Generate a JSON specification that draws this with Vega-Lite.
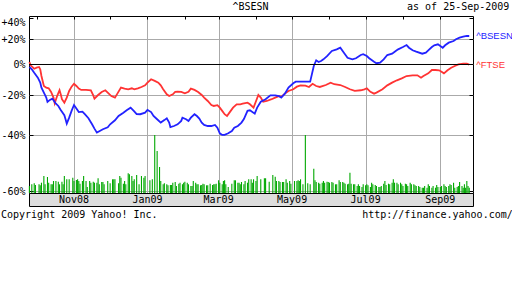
{
  "$schema": "https://vega.github.io/schema/vega-lite/v6.json",
  "autosize": {"type": "pad"},
  "padding": {"left": 0, "top": 2, "right": 0, "bottom": 0},
  "background": "white",
  "bounds": "flush",
  "spacing": 0,
  "title": {
    "text": "^BSESN\u00a0\u00a0\u00a0\u00a0\u00a0\u00a0\u00a0\u00a0\u00a0\u00a0\u00a0\u00a0\u00a0\u00a0\u00a0\u00a0\u00a0\u00a0\u00a0\u00a0\u00a0\u00a0\u00a0as of 25-Sep-2009",
    "anchor": "start", "frame": "bounds", "dx": 232, "offset": 3,
    "font": "DejaVu Sans Mono", "fontSize": 10, "fontWeight": "normal", "color": "black"
  },
  "datasets": {
    "months": [
      {"date": "2008-11-01", "label": "Nov08"},
      {"date": "2009-01-01", "label": "Jan09"},
      {"date": "2009-03-01", "label": "Mar09"},
      {"date": "2009-05-01", "label": "May09"},
      {"date": "2009-07-01", "label": "Jul09"},
      {"date": "2009-09-01", "label": "Sep09"}
    ],
    "prices": [
      {"date":"2008-09-25","series":"^FTSE","ratio":1.018},
      {"date":"2008-09-26","series":"^FTSE","ratio":0.994},
      {"date":"2008-09-29","series":"^FTSE","ratio":0.970},
      {"date":"2008-10-01","series":"^FTSE","ratio":0.977},
      {"date":"2008-10-03","series":"^FTSE","ratio":0.982},
      {"date":"2008-10-04","series":"^FTSE","ratio":0.966},
      {"date":"2008-10-05","series":"^FTSE","ratio":0.920},
      {"date":"2008-10-07","series":"^FTSE","ratio":0.856},
      {"date":"2008-10-09","series":"^FTSE","ratio":0.846},
      {"date":"2008-10-11","series":"^FTSE","ratio":0.842},
      {"date":"2008-10-13","series":"^FTSE","ratio":0.820},
      {"date":"2008-10-15","series":"^FTSE","ratio":0.787},
      {"date":"2008-10-16","series":"^FTSE","ratio":0.755},
      {"date":"2008-10-18","series":"^FTSE","ratio":0.796},
      {"date":"2008-10-20","series":"^FTSE","ratio":0.830},
      {"date":"2008-10-21","series":"^FTSE","ratio":0.806},
      {"date":"2008-10-22","series":"^FTSE","ratio":0.778},
      {"date":"2008-10-24","series":"^FTSE","ratio":0.759},
      {"date":"2008-10-26","series":"^FTSE","ratio":0.787},
      {"date":"2008-10-28","series":"^FTSE","ratio":0.826},
      {"date":"2008-10-30","series":"^FTSE","ratio":0.852},
      {"date":"2008-11-01","series":"^FTSE","ratio":0.870},
      {"date":"2008-11-03","series":"^FTSE","ratio":0.856},
      {"date":"2008-11-05","series":"^FTSE","ratio":0.840},
      {"date":"2008-11-07","series":"^FTSE","ratio":0.832},
      {"date":"2008-11-11","series":"^FTSE","ratio":0.832},
      {"date":"2008-11-15","series":"^FTSE","ratio":0.830},
      {"date":"2008-11-17","series":"^FTSE","ratio":0.800},
      {"date":"2008-11-18","series":"^FTSE","ratio":0.781},
      {"date":"2008-11-21","series":"^FTSE","ratio":0.802},
      {"date":"2008-11-24","series":"^FTSE","ratio":0.820},
      {"date":"2008-11-27","series":"^FTSE","ratio":0.830},
      {"date":"2008-11-29","series":"^FTSE","ratio":0.816},
      {"date":"2008-12-02","series":"^FTSE","ratio":0.796},
      {"date":"2008-12-05","series":"^FTSE","ratio":0.787},
      {"date":"2008-12-07","series":"^FTSE","ratio":0.810},
      {"date":"2008-12-10","series":"^FTSE","ratio":0.846},
      {"date":"2008-12-13","series":"^FTSE","ratio":0.840},
      {"date":"2008-12-16","series":"^FTSE","ratio":0.836},
      {"date":"2008-12-19","series":"^FTSE","ratio":0.842},
      {"date":"2008-12-21","series":"^FTSE","ratio":0.836},
      {"date":"2008-12-24","series":"^FTSE","ratio":0.842},
      {"date":"2008-12-27","series":"^FTSE","ratio":0.850},
      {"date":"2008-12-30","series":"^FTSE","ratio":0.860},
      {"date":"2009-01-01","series":"^FTSE","ratio":0.877},
      {"date":"2009-01-04","series":"^FTSE","ratio":0.899},
      {"date":"2009-01-07","series":"^FTSE","ratio":0.888},
      {"date":"2009-01-10","series":"^FTSE","ratio":0.877},
      {"date":"2009-01-12","series":"^FTSE","ratio":0.860},
      {"date":"2009-01-14","series":"^FTSE","ratio":0.836},
      {"date":"2009-01-17","series":"^FTSE","ratio":0.806},
      {"date":"2009-01-19","series":"^FTSE","ratio":0.796},
      {"date":"2009-01-22","series":"^FTSE","ratio":0.806},
      {"date":"2009-01-24","series":"^FTSE","ratio":0.820},
      {"date":"2009-01-26","series":"^FTSE","ratio":0.821},
      {"date":"2009-01-29","series":"^FTSE","ratio":0.820},
      {"date":"2009-02-01","series":"^FTSE","ratio":0.812},
      {"date":"2009-02-04","series":"^FTSE","ratio":0.821},
      {"date":"2009-02-06","series":"^FTSE","ratio":0.840},
      {"date":"2009-02-09","series":"^FTSE","ratio":0.832},
      {"date":"2009-02-12","series":"^FTSE","ratio":0.820},
      {"date":"2009-02-15","series":"^FTSE","ratio":0.802},
      {"date":"2009-02-17","series":"^FTSE","ratio":0.787},
      {"date":"2009-02-20","series":"^FTSE","ratio":0.768},
      {"date":"2009-02-23","series":"^FTSE","ratio":0.746},
      {"date":"2009-02-25","series":"^FTSE","ratio":0.741},
      {"date":"2009-02-28","series":"^FTSE","ratio":0.745},
      {"date":"2009-03-02","series":"^FTSE","ratio":0.732},
      {"date":"2009-03-04","series":"^FTSE","ratio":0.715},
      {"date":"2009-03-06","series":"^FTSE","ratio":0.698},
      {"date":"2009-03-08","series":"^FTSE","ratio":0.689},
      {"date":"2009-03-10","series":"^FTSE","ratio":0.706},
      {"date":"2009-03-13","series":"^FTSE","ratio":0.732},
      {"date":"2009-03-16","series":"^FTSE","ratio":0.750},
      {"date":"2009-03-19","series":"^FTSE","ratio":0.750},
      {"date":"2009-03-21","series":"^FTSE","ratio":0.753},
      {"date":"2009-03-25","series":"^FTSE","ratio":0.759},
      {"date":"2009-03-27","series":"^FTSE","ratio":0.750},
      {"date":"2009-03-30","series":"^FTSE","ratio":0.732},
      {"date":"2009-04-03","series":"^FTSE","ratio":0.802},
      {"date":"2009-04-05","series":"^FTSE","ratio":0.787},
      {"date":"2009-04-07","series":"^FTSE","ratio":0.764},
      {"date":"2009-04-10","series":"^FTSE","ratio":0.768},
      {"date":"2009-04-14","series":"^FTSE","ratio":0.778},
      {"date":"2009-04-17","series":"^FTSE","ratio":0.787},
      {"date":"2009-04-20","series":"^FTSE","ratio":0.796},
      {"date":"2009-04-22","series":"^FTSE","ratio":0.791},
      {"date":"2009-04-25","series":"^FTSE","ratio":0.810},
      {"date":"2009-04-28","series":"^FTSE","ratio":0.826},
      {"date":"2009-05-02","series":"^FTSE","ratio":0.836},
      {"date":"2009-05-05","series":"^FTSE","ratio":0.852},
      {"date":"2009-05-08","series":"^FTSE","ratio":0.860},
      {"date":"2009-05-12","series":"^FTSE","ratio":0.858},
      {"date":"2009-05-15","series":"^FTSE","ratio":0.850},
      {"date":"2009-05-18","series":"^FTSE","ratio":0.870},
      {"date":"2009-05-21","series":"^FTSE","ratio":0.856},
      {"date":"2009-05-24","series":"^FTSE","ratio":0.850},
      {"date":"2009-05-29","series":"^FTSE","ratio":0.862},
      {"date":"2009-06-02","series":"^FTSE","ratio":0.877},
      {"date":"2009-06-05","series":"^FTSE","ratio":0.867},
      {"date":"2009-06-10","series":"^FTSE","ratio":0.862},
      {"date":"2009-06-14","series":"^FTSE","ratio":0.850},
      {"date":"2009-06-18","series":"^FTSE","ratio":0.836},
      {"date":"2009-06-22","series":"^FTSE","ratio":0.826},
      {"date":"2009-06-27","series":"^FTSE","ratio":0.830},
      {"date":"2009-06-30","series":"^FTSE","ratio":0.836},
      {"date":"2009-07-02","series":"^FTSE","ratio":0.842},
      {"date":"2009-07-05","series":"^FTSE","ratio":0.821},
      {"date":"2009-07-08","series":"^FTSE","ratio":0.810},
      {"date":"2009-07-10","series":"^FTSE","ratio":0.816},
      {"date":"2009-07-15","series":"^FTSE","ratio":0.836},
      {"date":"2009-07-19","series":"^FTSE","ratio":0.860},
      {"date":"2009-07-23","series":"^FTSE","ratio":0.877},
      {"date":"2009-07-27","series":"^FTSE","ratio":0.892},
      {"date":"2009-07-31","series":"^FTSE","ratio":0.905},
      {"date":"2009-08-04","series":"^FTSE","ratio":0.920},
      {"date":"2009-08-09","series":"^FTSE","ratio":0.925},
      {"date":"2009-08-13","series":"^FTSE","ratio":0.925},
      {"date":"2009-08-16","series":"^FTSE","ratio":0.909},
      {"date":"2009-08-18","series":"^FTSE","ratio":0.920},
      {"date":"2009-08-22","series":"^FTSE","ratio":0.938},
      {"date":"2009-08-25","series":"^FTSE","ratio":0.961},
      {"date":"2009-08-28","series":"^FTSE","ratio":0.961},
      {"date":"2009-08-31","series":"^FTSE","ratio":0.959},
      {"date":"2009-09-02","series":"^FTSE","ratio":0.949},
      {"date":"2009-09-04","series":"^FTSE","ratio":0.938},
      {"date":"2009-09-07","series":"^FTSE","ratio":0.959},
      {"date":"2009-09-10","series":"^FTSE","ratio":0.977},
      {"date":"2009-09-13","series":"^FTSE","ratio":0.989},
      {"date":"2009-09-16","series":"^FTSE","ratio":1.001},
      {"date":"2009-09-20","series":"^FTSE","ratio":1.006},
      {"date":"2009-09-23","series":"^FTSE","ratio":1.006},
      {"date":"2009-09-25","series":"^FTSE","ratio":0.999},
      {"date":"2008-09-25","series":"^BSESN","ratio":0.982},
      {"date":"2008-09-27","series":"^BSESN","ratio":0.966},
      {"date":"2008-09-29","series":"^BSESN","ratio":0.942},
      {"date":"2008-10-02","series":"^BSESN","ratio":0.909},
      {"date":"2008-10-04","series":"^BSESN","ratio":0.877},
      {"date":"2008-10-05","series":"^BSESN","ratio":0.846},
      {"date":"2008-10-07","series":"^BSESN","ratio":0.816},
      {"date":"2008-10-09","series":"^BSESN","ratio":0.787},
      {"date":"2008-10-10","series":"^BSESN","ratio":0.763},
      {"date":"2008-10-12","series":"^BSESN","ratio":0.774},
      {"date":"2008-10-14","series":"^BSESN","ratio":0.781},
      {"date":"2008-10-15","series":"^BSESN","ratio":0.772},
      {"date":"2008-10-17","series":"^BSESN","ratio":0.753},
      {"date":"2008-10-19","series":"^BSESN","ratio":0.741},
      {"date":"2008-10-21","series":"^BSESN","ratio":0.720},
      {"date":"2008-10-24","series":"^BSESN","ratio":0.693},
      {"date":"2008-10-25","series":"^BSESN","ratio":0.673},
      {"date":"2008-10-26","series":"^BSESN","ratio":0.652},
      {"date":"2008-10-28","series":"^BSESN","ratio":0.681},
      {"date":"2008-10-30","series":"^BSESN","ratio":0.715},
      {"date":"2008-11-01","series":"^BSESN","ratio":0.746},
      {"date":"2008-11-03","series":"^BSESN","ratio":0.727},
      {"date":"2008-11-05","series":"^BSESN","ratio":0.709},
      {"date":"2008-11-08","series":"^BSESN","ratio":0.711},
      {"date":"2008-11-10","series":"^BSESN","ratio":0.698},
      {"date":"2008-11-13","series":"^BSESN","ratio":0.678},
      {"date":"2008-11-16","series":"^BSESN","ratio":0.649},
      {"date":"2008-11-18","series":"^BSESN","ratio":0.629},
      {"date":"2008-11-20","series":"^BSESN","ratio":0.611},
      {"date":"2008-11-22","series":"^BSESN","ratio":0.617},
      {"date":"2008-11-25","series":"^BSESN","ratio":0.626},
      {"date":"2008-11-29","series":"^BSESN","ratio":0.635},
      {"date":"2008-12-01","series":"^BSESN","ratio":0.649},
      {"date":"2008-12-05","series":"^BSESN","ratio":0.668},
      {"date":"2008-12-08","series":"^BSESN","ratio":0.689},
      {"date":"2008-12-12","series":"^BSESN","ratio":0.706},
      {"date":"2008-12-15","series":"^BSESN","ratio":0.720},
      {"date":"2008-12-18","series":"^BSESN","ratio":0.732},
      {"date":"2008-12-21","series":"^BSESN","ratio":0.713},
      {"date":"2008-12-23","series":"^BSESN","ratio":0.699},
      {"date":"2008-12-26","series":"^BSESN","ratio":0.698},
      {"date":"2008-12-30","series":"^BSESN","ratio":0.706},
      {"date":"2009-01-01","series":"^BSESN","ratio":0.720},
      {"date":"2009-01-04","series":"^BSESN","ratio":0.709},
      {"date":"2009-01-06","series":"^BSESN","ratio":0.689},
      {"date":"2009-01-09","series":"^BSESN","ratio":0.673},
      {"date":"2009-01-12","series":"^BSESN","ratio":0.657},
      {"date":"2009-01-15","series":"^BSESN","ratio":0.669},
      {"date":"2009-01-17","series":"^BSESN","ratio":0.678},
      {"date":"2009-01-19","series":"^BSESN","ratio":0.657},
      {"date":"2009-01-20","series":"^BSESN","ratio":0.636},
      {"date":"2009-01-23","series":"^BSESN","ratio":0.641},
      {"date":"2009-01-26","series":"^BSESN","ratio":0.649},
      {"date":"2009-01-29","series":"^BSESN","ratio":0.665},
      {"date":"2009-01-30","series":"^BSESN","ratio":0.681},
      {"date":"2009-02-02","series":"^BSESN","ratio":0.673},
      {"date":"2009-02-04","series":"^BSESN","ratio":0.665},
      {"date":"2009-02-06","series":"^BSESN","ratio":0.681},
      {"date":"2009-02-09","series":"^BSESN","ratio":0.698},
      {"date":"2009-02-11","series":"^BSESN","ratio":0.689},
      {"date":"2009-02-13","series":"^BSESN","ratio":0.676},
      {"date":"2009-02-15","series":"^BSESN","ratio":0.657},
      {"date":"2009-02-17","series":"^BSESN","ratio":0.646},
      {"date":"2009-02-20","series":"^BSESN","ratio":0.641},
      {"date":"2009-02-23","series":"^BSESN","ratio":0.641},
      {"date":"2009-02-26","series":"^BSESN","ratio":0.646},
      {"date":"2009-02-28","series":"^BSESN","ratio":0.633},
      {"date":"2009-03-02","series":"^BSESN","ratio":0.608},
      {"date":"2009-03-04","series":"^BSESN","ratio":0.601},
      {"date":"2009-03-06","series":"^BSESN","ratio":0.601},
      {"date":"2009-03-09","series":"^BSESN","ratio":0.608},
      {"date":"2009-03-12","series":"^BSESN","ratio":0.618},
      {"date":"2009-03-14","series":"^BSESN","ratio":0.633},
      {"date":"2009-03-17","series":"^BSESN","ratio":0.641},
      {"date":"2009-03-20","series":"^BSESN","ratio":0.657},
      {"date":"2009-03-22","series":"^BSESN","ratio":0.674},
      {"date":"2009-03-25","series":"^BSESN","ratio":0.715},
      {"date":"2009-03-27","series":"^BSESN","ratio":0.718},
      {"date":"2009-03-31","series":"^BSESN","ratio":0.701},
      {"date":"2009-04-02","series":"^BSESN","ratio":0.732},
      {"date":"2009-04-05","series":"^BSESN","ratio":0.764},
      {"date":"2009-04-09","series":"^BSESN","ratio":0.778},
      {"date":"2009-04-13","series":"^BSESN","ratio":0.800},
      {"date":"2009-04-17","series":"^BSESN","ratio":0.800},
      {"date":"2009-04-20","series":"^BSESN","ratio":0.796},
      {"date":"2009-04-22","series":"^BSESN","ratio":0.787},
      {"date":"2009-04-25","series":"^BSESN","ratio":0.810},
      {"date":"2009-04-28","series":"^BSESN","ratio":0.846},
      {"date":"2009-05-02","series":"^BSESN","ratio":0.873},
      {"date":"2009-05-04","series":"^BSESN","ratio":0.883},
      {"date":"2009-05-16","series":"^BSESN","ratio":0.883},
      {"date":"2009-05-19","series":"^BSESN","ratio":0.989},
      {"date":"2009-05-21","series":"^BSESN","ratio":1.031},
      {"date":"2009-05-23","series":"^BSESN","ratio":1.018},
      {"date":"2009-05-25","series":"^BSESN","ratio":1.026},
      {"date":"2009-05-27","series":"^BSESN","ratio":1.038},
      {"date":"2009-05-30","series":"^BSESN","ratio":1.063},
      {"date":"2009-06-03","series":"^BSESN","ratio":1.103},
      {"date":"2009-06-07","series":"^BSESN","ratio":1.116},
      {"date":"2009-06-10","series":"^BSESN","ratio":1.129},
      {"date":"2009-06-13","series":"^BSESN","ratio":1.089},
      {"date":"2009-06-16","series":"^BSESN","ratio":1.050},
      {"date":"2009-06-20","series":"^BSESN","ratio":1.038},
      {"date":"2009-06-23","series":"^BSESN","ratio":1.046},
      {"date":"2009-06-27","series":"^BSESN","ratio":1.071},
      {"date":"2009-06-29","series":"^BSESN","ratio":1.077},
      {"date":"2009-07-02","series":"^BSESN","ratio":1.063},
      {"date":"2009-07-04","series":"^BSESN","ratio":1.046},
      {"date":"2009-07-08","series":"^BSESN","ratio":1.020},
      {"date":"2009-07-10","series":"^BSESN","ratio":1.009},
      {"date":"2009-07-13","series":"^BSESN","ratio":1.013},
      {"date":"2009-07-16","series":"^BSESN","ratio":1.038},
      {"date":"2009-07-19","series":"^BSESN","ratio":1.071},
      {"date":"2009-07-23","series":"^BSESN","ratio":1.081},
      {"date":"2009-07-26","series":"^BSESN","ratio":1.103},
      {"date":"2009-07-28","series":"^BSESN","ratio":1.116},
      {"date":"2009-08-01","series":"^BSESN","ratio":1.135},
      {"date":"2009-08-04","series":"^BSESN","ratio":1.151},
      {"date":"2009-08-06","series":"^BSESN","ratio":1.129},
      {"date":"2009-08-09","series":"^BSESN","ratio":1.108},
      {"date":"2009-08-12","series":"^BSESN","ratio":1.097},
      {"date":"2009-08-17","series":"^BSESN","ratio":1.081},
      {"date":"2009-08-20","series":"^BSESN","ratio":1.089},
      {"date":"2009-08-22","series":"^BSESN","ratio":1.108},
      {"date":"2009-08-25","series":"^BSESN","ratio":1.135},
      {"date":"2009-08-27","series":"^BSESN","ratio":1.149},
      {"date":"2009-08-30","series":"^BSESN","ratio":1.157},
      {"date":"2009-09-01","series":"^BSESN","ratio":1.143},
      {"date":"2009-09-03","series":"^BSESN","ratio":1.129},
      {"date":"2009-09-05","series":"^BSESN","ratio":1.149},
      {"date":"2009-09-08","series":"^BSESN","ratio":1.171},
      {"date":"2009-09-12","series":"^BSESN","ratio":1.185},
      {"date":"2009-09-14","series":"^BSESN","ratio":1.200},
      {"date":"2009-09-17","series":"^BSESN","ratio":1.214},
      {"date":"2009-09-20","series":"^BSESN","ratio":1.223},
      {"date":"2009-09-23","series":"^BSESN","ratio":1.229},
      {"date":"2009-09-25","series":"^BSESN","ratio":1.229}
    ],
    "volume": [
      {"date":"2008-09-25","v":7},{"date":"2008-09-27","v":8.7},{"date":"2008-09-29","v":9.7},{"date":"2008-09-30","v":8},
      {"date":"2008-10-03","v":8.7},{"date":"2008-10-04","v":7.7},{"date":"2008-10-05","v":10.3},{"date":"2008-10-07","v":17},
      {"date":"2008-10-08","v":8.7},{"date":"2008-10-10","v":16},{"date":"2008-10-11","v":10.3},{"date":"2008-10-13","v":8.7},
      {"date":"2008-10-14","v":8.7},{"date":"2008-10-15","v":12},{"date":"2008-10-17","v":12},{"date":"2008-10-19","v":11.3},
      {"date":"2008-10-20","v":8.7},{"date":"2008-10-22","v":11.3},{"date":"2008-10-23","v":8.7},{"date":"2008-10-24","v":17},
      {"date":"2008-10-26","v":13.7},{"date":"2008-10-28","v":13.7},{"date":"2008-10-31","v":15.3},{"date":"2008-11-01","v":12},
      {"date":"2008-11-03","v":13},{"date":"2008-11-04","v":13.7},{"date":"2008-11-05","v":12},{"date":"2008-11-06","v":9.3},
      {"date":"2008-11-08","v":12},{"date":"2008-11-09","v":17},{"date":"2008-11-11","v":12},{"date":"2008-11-12","v":6},
      {"date":"2008-11-14","v":12},{"date":"2008-11-15","v":10.3},{"date":"2008-11-17","v":11.3},{"date":"2008-11-18","v":10.3},
      {"date":"2008-11-20","v":10.3},{"date":"2008-11-21","v":14.7},{"date":"2008-11-22","v":8.7},{"date":"2008-11-24","v":11},
      {"date":"2008-11-25","v":11},{"date":"2008-11-26","v":8.7},{"date":"2008-11-29","v":12},{"date":"2008-12-01","v":9.7},
      {"date":"2008-12-03","v":13.7},{"date":"2008-12-04","v":13.7},{"date":"2008-12-05","v":13.7},{"date":"2008-12-08","v":9.7},
      {"date":"2008-12-09","v":17},{"date":"2008-12-10","v":15.3},{"date":"2008-12-12","v":9.3},{"date":"2008-12-13","v":12},
      {"date":"2008-12-14","v":8.7},{"date":"2008-12-16","v":19.7},{"date":"2008-12-17","v":18.7},{"date":"2008-12-19","v":17},
      {"date":"2008-12-20","v":12},{"date":"2008-12-21","v":13.7},{"date":"2008-12-23","v":18},{"date":"2008-12-25","v":8.7},
      {"date":"2008-12-27","v":17},{"date":"2008-12-29","v":15.3},{"date":"2008-12-30","v":17},{"date":"2009-01-03","v":12.7},
      {"date":"2009-01-05","v":13.7},{"date":"2009-01-07","v":58},{"date":"2009-01-09","v":42},{"date":"2009-01-11","v":26},
      {"date":"2009-01-12","v":12},{"date":"2009-01-14","v":8.7},{"date":"2009-01-15","v":9.7},{"date":"2009-01-17","v":8.7},
      {"date":"2009-01-18","v":7.7},{"date":"2009-01-20","v":8},{"date":"2009-01-21","v":8},{"date":"2009-01-22","v":10.3},
      {"date":"2009-01-24","v":11},{"date":"2009-01-25","v":7},{"date":"2009-01-27","v":9.3},{"date":"2009-01-28","v":10.3},
      {"date":"2009-01-30","v":8.7},{"date":"2009-01-31","v":10.3},{"date":"2009-02-01","v":11.3},{"date":"2009-02-03","v":10.3},
      {"date":"2009-02-04","v":8.7},{"date":"2009-02-06","v":7},{"date":"2009-02-07","v":7},{"date":"2009-02-08","v":12},
      {"date":"2009-02-10","v":10.3},{"date":"2009-02-11","v":8.7},{"date":"2009-02-12","v":8.7},{"date":"2009-02-14","v":7.7},
      {"date":"2009-02-15","v":8},{"date":"2009-02-16","v":9.3},{"date":"2009-02-17","v":8.7},{"date":"2009-02-19","v":7.7},
      {"date":"2009-02-20","v":7.7},{"date":"2009-02-22","v":9.3},{"date":"2009-02-24","v":8},{"date":"2009-02-25","v":8.7},
      {"date":"2009-02-26","v":8.7},{"date":"2009-02-27","v":9.3},{"date":"2009-03-01","v":12.7},{"date":"2009-03-02","v":10.3},
      {"date":"2009-03-04","v":8.7},{"date":"2009-03-05","v":12},{"date":"2009-03-06","v":12.7},{"date":"2009-03-07","v":8.7},
      {"date":"2009-03-09","v":6},{"date":"2009-03-12","v":9.3},{"date":"2009-03-14","v":12.7},{"date":"2009-03-15","v":12.7},
      {"date":"2009-03-17","v":10.3},{"date":"2009-03-18","v":10.3},{"date":"2009-03-19","v":8.7},{"date":"2009-03-20","v":11},
      {"date":"2009-03-22","v":8.7},{"date":"2009-03-23","v":12},{"date":"2009-03-25","v":10.3},{"date":"2009-03-26","v":13.7},
      {"date":"2009-03-28","v":13.7},{"date":"2009-03-29","v":10.3},{"date":"2009-03-30","v":13.7},{"date":"2009-04-01","v":12},
      {"date":"2009-04-02","v":17},{"date":"2009-04-05","v":13.7},{"date":"2009-04-08","v":14.7},{"date":"2009-04-09","v":14.7},
      {"date":"2009-04-12","v":11.3},{"date":"2009-04-15","v":18},{"date":"2009-04-17","v":16.3},{"date":"2009-04-18","v":12},
      {"date":"2009-04-20","v":12},{"date":"2009-04-21","v":11},{"date":"2009-04-23","v":11},{"date":"2009-04-24","v":11},
      {"date":"2009-04-26","v":13.7},{"date":"2009-04-27","v":10.3},{"date":"2009-04-29","v":12},{"date":"2009-04-30","v":9.3},
      {"date":"2009-05-03","v":12},{"date":"2009-05-05","v":12},{"date":"2009-05-06","v":12.7},{"date":"2009-05-07","v":12},
      {"date":"2009-05-08","v":13.7},{"date":"2009-05-10","v":8.7},{"date":"2009-05-12","v":58},{"date":"2009-05-14","v":9.7},
      {"date":"2009-05-16","v":8.7},{"date":"2009-05-19","v":24.3},{"date":"2009-05-20","v":12.7},{"date":"2009-05-21","v":11},
      {"date":"2009-05-23","v":10.3},{"date":"2009-05-24","v":9.3},{"date":"2009-05-26","v":10.3},{"date":"2009-05-27","v":12},
      {"date":"2009-05-28","v":10.3},{"date":"2009-05-30","v":11.3},{"date":"2009-05-31","v":11},{"date":"2009-06-01","v":10.3},
      {"date":"2009-06-03","v":11},{"date":"2009-06-04","v":10.3},{"date":"2009-06-06","v":8.7},{"date":"2009-06-07","v":8.7},
      {"date":"2009-06-09","v":12.7},{"date":"2009-06-10","v":11},{"date":"2009-06-12","v":11},{"date":"2009-06-13","v":10.3},
      {"date":"2009-06-14","v":9.3},{"date":"2009-06-16","v":8.7},{"date":"2009-06-17","v":9.3},{"date":"2009-06-18","v":20.3},
      {"date":"2009-06-19","v":9.3},{"date":"2009-06-21","v":8.7},{"date":"2009-06-22","v":8.7},{"date":"2009-06-24","v":7},
      {"date":"2009-06-25","v":8.7},{"date":"2009-06-26","v":7},{"date":"2009-06-28","v":6},{"date":"2009-06-29","v":8.7},
      {"date":"2009-07-01","v":7.7},{"date":"2009-07-02","v":8.7},{"date":"2009-07-03","v":7.7},{"date":"2009-07-05","v":6},
      {"date":"2009-07-06","v":10.3},{"date":"2009-07-07","v":8.7},{"date":"2009-07-09","v":8},{"date":"2009-07-10","v":7},
      {"date":"2009-07-12","v":6},{"date":"2009-07-13","v":6},{"date":"2009-07-14","v":7},{"date":"2009-07-16","v":9.3},
      {"date":"2009-07-17","v":12},{"date":"2009-07-18","v":8},{"date":"2009-07-20","v":9.3},{"date":"2009-07-21","v":8.7},
      {"date":"2009-07-23","v":10.3},{"date":"2009-07-24","v":13.7},{"date":"2009-07-25","v":10.3},{"date":"2009-07-27","v":10.3},
      {"date":"2009-07-28","v":8.7},{"date":"2009-07-30","v":10.3},{"date":"2009-07-31","v":8.7},{"date":"2009-08-01","v":7},
      {"date":"2009-08-03","v":9.3},{"date":"2009-08-04","v":8.7},{"date":"2009-08-05","v":7},{"date":"2009-08-07","v":10.3},
      {"date":"2009-08-08","v":8.7},{"date":"2009-08-10","v":8.7},{"date":"2009-08-11","v":7.7},{"date":"2009-08-12","v":7},
      {"date":"2009-08-14","v":7},{"date":"2009-08-15","v":6},{"date":"2009-08-17","v":5.3},{"date":"2009-08-18","v":5.3},
      {"date":"2009-08-19","v":7},{"date":"2009-08-21","v":5.3},{"date":"2009-08-22","v":8.7},{"date":"2009-08-23","v":7},
      {"date":"2009-08-25","v":5.3},{"date":"2009-08-26","v":7},{"date":"2009-08-28","v":5.3},{"date":"2009-08-29","v":8},
      {"date":"2009-08-30","v":6},{"date":"2009-09-01","v":6},{"date":"2009-09-02","v":7},{"date":"2009-09-04","v":8.7},
      {"date":"2009-09-05","v":7},{"date":"2009-09-06","v":6},{"date":"2009-09-08","v":7},{"date":"2009-09-09","v":8.7},
      {"date":"2009-09-10","v":8},{"date":"2009-09-12","v":10.3},{"date":"2009-09-13","v":5.3},{"date":"2009-09-15","v":6},
      {"date":"2009-09-16","v":7},{"date":"2009-09-17","v":11},{"date":"2009-09-19","v":7},{"date":"2009-09-20","v":5.3},
      {"date":"2009-09-21","v":8.7},{"date":"2009-09-22","v":5.3},{"date":"2009-09-23","v":12},{"date":"2009-09-24","v":7},
      {"date":"2009-09-25","v":5.3}
    ]
  },
  "vconcat": [
    {
      "width": 444,
      "height": 177,
      "layer": [
        {
          "data": {"name": "volume"},
          "mark": {"type": "rule", "color": "#00a800", "strokeWidth": 1.1},
          "encoding": {
            "x": {"field": "date", "type": "temporal",
                  "scale": {"type": "utc", "domain": [{"year": 2008, "month": 9, "date": 24, "hours": 16, "utc": true}, {"year": 2009, "month": 9, "date": 28, "hours": 3, "utc": true}]},
                  "axis": null},
            "y": {"field": "v", "type": "quantitative", "scale": {"domain": [0, 177], "nice": false}, "axis": null},
            "y2": {"datum": 0}
          }
        },
        {
          "data": {"name": "prices"},
          "mark": {"type": "line", "strokeWidth": 1.8},
          "encoding": {
            "x": {"field": "date", "type": "temporal",
                  "axis": {"orient": "bottom", "title": null, "labels": false, "ticks": false, "domain": false,
                           "grid": true, "gridColor": "#aaaaaa", "gridWidth": 1,
                           "values": [{"year": 2008, "month": 11, "date": 1, "utc": true}, {"year": 2009, "month": 1, "date": 1, "utc": true}, {"year": 2009, "month": 3, "date": 1, "utc": true}, {"year": 2009, "month": 5, "date": 1, "utc": true}, {"year": 2009, "month": 7, "date": 1, "utc": true}, {"year": 2009, "month": 9, "date": 1, "utc": true}]}},
            "y": {"field": "ratio", "type": "quantitative",
                  "scale": {"type": "log", "domain": [0.3949, 1.42], "nice": false},
                  "axis": {"orient": "left", "title": null, "domain": false,
                           "values": [0.4, 0.6, 0.8, 1, 1.2, 1.4],
                           "labelExpr": "datum.value == 1 ? '0%' : (datum.value > 1 ? '+' : '-') + format(abs(datum.value - 1) * 100, '.0f') + '%'",
                           "labelOverlap": false, "labelBound": false,
                           "labelBaseline": {"condition": {"test": "datum.value > 1.3", "value": "top"}, "value": "middle"},
                           "labelPadding": 8,
                           "tickSize": -4, "tickColor": "black",
                           "grid": true, "gridColor": "#aaaaaa", "gridWidth": 1,
                           "gridOpacity": {"condition": {"test": "datum.value > 1.3", "value": 0}, "value": 1}}},
            "color": {"field": "series", "type": "nominal",
                      "scale": {"domain": ["^FTSE", "^BSESN"], "range": ["#ff3333", "#2222ff"]},
                      "legend": null}
          }
        },
        {
          "data": {"values": [{}]},
          "mark": {"type": "rule", "color": "black", "strokeWidth": 1},
          "encoding": {
            "y": {"datum": 1, "type": "quantitative",
                  "scale": {"type": "log", "domain": [0.3949, 1.42], "nice": false},
                  "axis": {"orient": "right", "title": null, "labels": false, "domain": false, "grid": false,
                           "values": [0.4, 0.6, 0.8, 1, 1.2, 1.4],
                           "tickSize": -4, "tickColor": "black"}}
          }
        },
        {
          "data": {"name": "prices"},
          "mark": {"type": "text", "align": "left", "baseline": "middle", "dx": 7, "font": "Liberation Sans", "fontSize": 9.5},
          "encoding": {
            "x": {"field": "date", "type": "temporal", "aggregate": "max",
                  "axis": {"orient": "top", "title": null, "labels": false, "domain": false, "grid": false,
                           "tickSize": -3, "tickColor": "black",
                           "values": [{"year": 2008, "month": 10, "date": 1, "utc": true}, {"year": 2008, "month": 11, "date": 1, "utc": true}, {"year": 2008, "month": 12, "date": 1, "utc": true}, {"year": 2009, "month": 1, "date": 1, "utc": true}, {"year": 2009, "month": 2, "date": 1, "utc": true}, {"year": 2009, "month": 3, "date": 1, "utc": true}, {"year": 2009, "month": 4, "date": 1, "utc": true}, {"year": 2009, "month": 5, "date": 1, "utc": true}, {"year": 2009, "month": 6, "date": 1, "utc": true}, {"year": 2009, "month": 7, "date": 1, "utc": true}, {"year": 2009, "month": 8, "date": 1, "utc": true}, {"year": 2009, "month": 9, "date": 1, "utc": true}]}},
            "y": {"field": "ratio", "type": "quantitative", "aggregate": {"argmax": "date"},
                  "scale": {"type": "log", "domain": [0.3949, 1.42], "nice": false},
                  "axis": null},
            "text": {"field": "series", "type": "nominal"},
            "color": {"field": "series", "type": "nominal", "legend": null}
          }
        }
      ],
      "resolve": {"scale": {"y": "independent"}, "axis": {"x": "independent", "y": "independent"}}
    },
    {
      "width": 444,
      "height": 13,
      "view": {"fill": "#dddddd", "stroke": "black"},
      "data": {"name": "months"},
      "title": {
        "text": "Copyright 2009 Yahoo! Inc.\u00a0\u00a0\u00a0\u00a0\u00a0\u00a0\u00a0\u00a0\u00a0\u00a0\u00a0\u00a0\u00a0\u00a0\u00a0\u00a0\u00a0\u00a0\u00a0\u00a0\u00a0\u00a0\u00a0\u00a0\u00a0\u00a0\u00a0\u00a0\u00a0\u00a0\u00a0\u00a0\u00a0\u00a0http://finance.yahoo.com/",
        "orient": "bottom", "anchor": "start", "frame": "group", "dx": -28, "offset": 4,
        "font": "DejaVu Sans Mono", "fontSize": 10, "fontWeight": "normal", "color": "black"
      },
      "mark": {"type": "text", "font": "DejaVu Sans Mono", "fontSize": 10, "baseline": "middle", "align": "center", "color": "black"},
      "encoding": {
        "x": {"field": "date", "type": "temporal",
              "scale": {"type": "utc", "domain": [{"year": 2008, "month": 9, "date": 24, "hours": 16, "utc": true}, {"year": 2009, "month": 9, "date": 28, "hours": 3, "utc": true}]},
              "axis": null},
        "text": {"field": "label", "type": "nominal"}
      }
    }
  ],
  "config": {
    "view": {"stroke": "black", "strokeWidth": 1},
    "axis": {"labelFont": "DejaVu Sans Mono", "labelFontSize": 10, "labelColor": "black"}
  }
}
